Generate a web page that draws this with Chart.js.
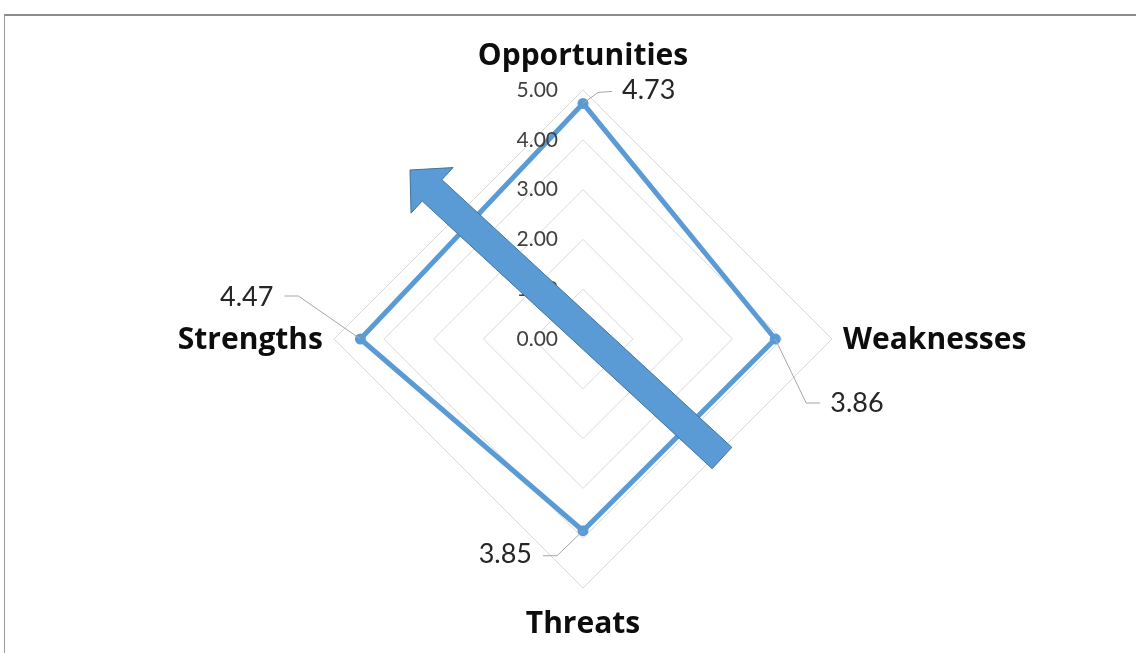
<!DOCTYPE html>
<html>
<head>
<meta charset="utf-8">
<script src="https://cdn.jsdelivr.net/npm/chart.js@4.4.1/dist/chart.umd.min.js"></script>
<style>
    html, body { margin: 0; padding: 0; background: #fff; }
    #frame {
        position: absolute; left: 4px; top: 14px; width: 1140px; height: 650px;
        border-top: 2px solid #8c8c8c; border-left: 1px solid #9a9a9a;
    }
    #wrap { position: absolute; left: 0; top: 0; width: 1136px; height: 653px; }
</style>
</head>
<body>
<div id="frame"></div>
<div id="wrap"><canvas id="swot" width="1136" height="653"></canvas></div>
<script>
// SWOT scores
const categories = ['Opportunities', 'Weaknesses', 'Threats', 'Strengths'];
const scores = [4.73, 3.86, 3.85, 4.47];
const tickValues = [0, 1, 2, 3, 4, 5];

const FONT = 'Lato, "Open Sans", sans-serif';
const BOLD_FONT = '"Open Sans", Lato, sans-serif';
const BLUE = '#5b9bd5';

// labels, data labels and the arrow drawn on top of the scale
const overlay = {
    id: 'overlay',
    afterDatasetsDraw(chart) {
        const ctx = chart.ctx;
        const r = chart.scales.r;
        const cx = r.xCenter, cy = r.yCenter;
        ctx.save();

        // tick labels, left of the vertical axis
        ctx.fillStyle = '#404040';
        ctx.font = '21px ' + FONT;
        ctx.textAlign = 'right';
        ctx.textBaseline = 'middle';
        tickValues.forEach(v => {
            ctx.fillText(v.toFixed(2), cx - 25, cy - r.getDistanceFromCenterForValue(v));
        });

        // category labels
        ctx.fillStyle = '#0d0d0d';
        ctx.font = 'bold 30px ' + BOLD_FONT;
        categories.forEach((name, i) => {
            const a = r.getIndexAngle(i);
            const horiz = Math.abs(Math.sin(a)) > 0.5;
            const p = r.getPointPosition(i, r.drawingArea + (horiz ? 11 : 35));
            ctx.textAlign = horiz ? (Math.sin(a) > 0 ? 'left' : 'right') : 'center';
            ctx.fillText(name, p.x, p.y + 1);
        });

        // data labels with leader lines
        const meta = chart.getDatasetMeta(0);
        const lead = [
            { bend: [15, -11], end: [29, -12], text: [39, -13], align: 'left' },
            { bend: [31, 64], end: [45, 64], text: [55, 64], align: 'left' },
            { bend: [-26, 25], end: [-40, 25], text: [-51, 24], align: 'right' },
            { bend: [-62, -43], end: [-76, -43], text: [-87, -42], align: 'right' }
        ];
        ctx.font = '27px ' + FONT;
        ctx.fillStyle = '#262626';
        ctx.strokeStyle = '#a6a6a6';
        ctx.lineWidth = 1;
        meta.data.forEach((pt, i) => {
            const l = lead[i];
            ctx.beginPath();
            ctx.moveTo(pt.x, pt.y);
            ctx.lineTo(pt.x + l.bend[0], pt.y + l.bend[1]);
            ctx.lineTo(pt.x + l.end[0], pt.y + l.end[1]);
            ctx.stroke();
            ctx.textAlign = l.align;
            ctx.fillText(scores[i].toFixed(2), pt.x + l.text[0], pt.y + l.text[1]);
        });

        // block arrow pointing up-left
        const tail = { x: cx + 139, y: cy + 119 };
        const tip = { x: cx - 173, y: cy - 169 };
        const dx = tip.x - tail.x, dy = tip.y - tail.y;
        const len = Math.hypot(dx, dy);
        const ux = dx / len, uy = dy / len, nx = -uy, ny = ux;
        const sw = 14.5, hw = 31, hl = 30;
        const bx = tip.x - ux * hl, by = tip.y - uy * hl;
        ctx.beginPath();
        ctx.moveTo(tail.x + nx * sw, tail.y + ny * sw);
        ctx.lineTo(bx + nx * sw, by + ny * sw);
        ctx.lineTo(bx + nx * hw, by + ny * hw);
        ctx.lineTo(tip.x, tip.y);
        ctx.lineTo(bx - nx * hw, by - ny * hw);
        ctx.lineTo(bx - nx * sw, by - ny * sw);
        ctx.lineTo(tail.x - nx * sw, tail.y - ny * sw);
        ctx.closePath();
        ctx.fillStyle = BLUE;
        ctx.fill();
        ctx.strokeStyle = '#41719c';
        ctx.lineWidth = 1;
        ctx.stroke();

        ctx.restore();
    }
};

new Chart(document.getElementById('swot'), {
    type: 'radar',
    data: {
        labels: categories,
        datasets: [{
            data: scores,
            borderColor: BLUE,
            borderWidth: 5,
            backgroundColor: BLUE,
            pointRadius: 5.5,
            pointBorderWidth: 0,
            pointBackgroundColor: BLUE,
            fill: false
        }]
    },
    options: {
        responsive: false,
        animation: false,
        layout: { padding: { top: 90, bottom: 65, left: 334, right: 304 } },
        plugins: { legend: { display: false }, tooltip: { enabled: false } },
        scales: {
            r: {
                min: 0,
                max: 5,
                ticks: { stepSize: 1, display: false },
                grid: { color: '#d9d9d9', lineWidth: 1 },
                angleLines: { display: false },
                pointLabels: { display: false }
            }
        }
    },
    plugins: [overlay]
});
</script>
</body>
</html>
